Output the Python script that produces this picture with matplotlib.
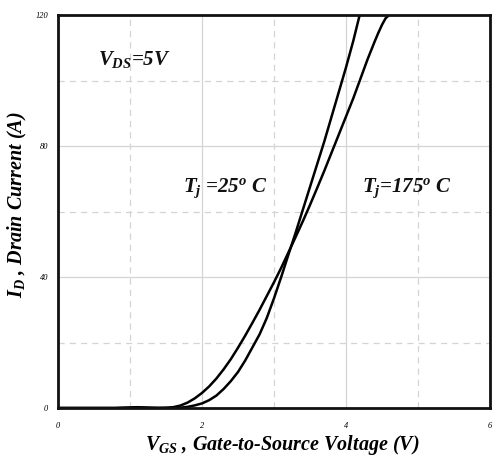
import matplotlib
matplotlib.use("Agg")
import matplotlib.pyplot as plt
from matplotlib.ticker import MultipleLocator

# Data
vgs_25 = [0.0, 0.8, 1.0, 1.1, 1.2, 1.4, 1.6, 1.7, 1.8, 1.9, 2.0, 2.1, 2.2, 2.3, 2.4,
          2.5, 2.6, 2.7, 2.8, 2.9, 3.0, 3.1, 3.2, 3.3, 3.4, 3.5, 3.6, 3.7, 3.8,
          3.9, 4.0, 4.1, 4.19]
id_25 = [0.0, 0.0, 0.15, 0.25, 0.15, 0.0, 0.0, 0.1, 0.35, 0.8, 1.4, 2.4, 3.8, 5.8, 8.2,
         11.0, 14.5, 18.5, 22.5, 27.5, 33.5, 40.0, 46.8, 53.5, 60.5, 67.5, 74.5, 81.5, 89.0,
         96.5, 104.0, 112.0, 120.0]

vgs_175 = [0.0, 0.8, 1.0, 1.1, 1.2, 1.3, 1.4, 1.5, 1.6, 1.7, 1.8, 1.9, 2.0, 2.1, 2.2,
           2.3, 2.4, 2.5, 2.6, 2.7, 2.8, 2.9, 3.0, 3.1, 3.2, 3.3, 3.4, 3.5, 3.6,
           3.7, 3.8, 3.9, 4.0, 4.1, 4.2, 4.3, 4.4, 4.45, 4.5, 4.55, 4.6]
id_175 = [0.0, 0.0, 0.1, 0.15, 0.1, 0.05, 0.05, 0.1, 0.25, 0.75, 1.65, 2.95, 4.6, 6.6, 9.0,
          11.8, 14.9, 18.4, 22.1, 26.0, 30.0, 34.2, 38.4, 42.8, 47.5, 52.2, 57.0, 62.0, 67.2,
          72.5, 78.0, 83.5, 89.0, 94.5, 100.5, 106.5, 112.0, 114.6, 117.0, 119.0, 120.0]

x_ticks = [0, 2, 4, 6]
y_ticks = [0, 40, 80, 120]

plt.rcParams['font.family'] = ['Liberation Serif', 'DejaVu Serif']
plt.rcParams['mathtext.fontset'] = 'custom'
plt.rcParams['mathtext.it'] = 'Liberation Serif:italic:bold'
plt.rcParams['mathtext.rm'] = 'Liberation Serif:italic:bold'
plt.rcParams['mathtext.bf'] = 'Liberation Serif:italic:bold'

fig = plt.figure(figsize=(4.96, 4.58), dpi=100)
ax = fig.add_axes([58/496, 50/458, 432/496, 393/458])

ax.plot(vgs_25, id_25, color='black', lw=1.8, solid_capstyle='round', solid_joinstyle='round')
ax.plot(vgs_175, id_175, color='black', lw=1.8, solid_capstyle='round', solid_joinstyle='round')

ax.set_xlim(0, 6)
ax.set_ylim(0, 120)
ax.set_xticks(x_ticks)
ax.set_yticks(y_ticks)
ax.set_xticklabels([str(v) for v in x_ticks])
ax.set_yticklabels([str(v) for v in y_ticks])
ax.xaxis.set_minor_locator(MultipleLocator(1))
ax.yaxis.set_minor_locator(MultipleLocator(20))
ax.grid(which='major', color='#d4d4d4', lw=0.9, ls='-')
ax.grid(which='minor', color='#d4d4d4', lw=0.9, ls=(0, (5, 4)))
ax.set_axisbelow(True)
ax.tick_params(which='both', length=0, labelsize=6)
ax.tick_params(axis='x', pad=10)
ax.tick_params(axis='y', pad=7)
for lab in ax.get_xticklabels() + ax.get_yticklabels():
    lab.set_fontstyle('italic')
for s in ax.spines.values():
    s.set_linewidth(2.0)
    s.set_color('#111111')

ax.set_xlabel(r'$V_{GS}$ , Gate-to-Source Voltage (V)', fontsize=14.5,
              fontweight='bold', fontstyle='italic')
ax.xaxis.set_label_coords((282 - 58) / 432, (408 - 433) / 393)
ax.set_ylabel(r'$I_D$ , Drain Current (A)', fontsize=14.5,
              fontweight='bold', fontstyle='italic', va='center')
ax.yaxis.set_label_coords((17 - 58) / 432, (408 - 205) / 393)

tkw = dict(fontsize=15, fontweight='bold', fontstyle='italic', color='#111111')
ax.text(0.55, 104.7, r'$V_{DS}$=5V', **tkw)
ax.text(1.73, 66, r'$T_j$ =25$^o$ C', **tkw)
ax.text(4.22, 66, r'$T_j$=175$^o$ C', **tkw)

fig.savefig('out.png', dpi=100)
